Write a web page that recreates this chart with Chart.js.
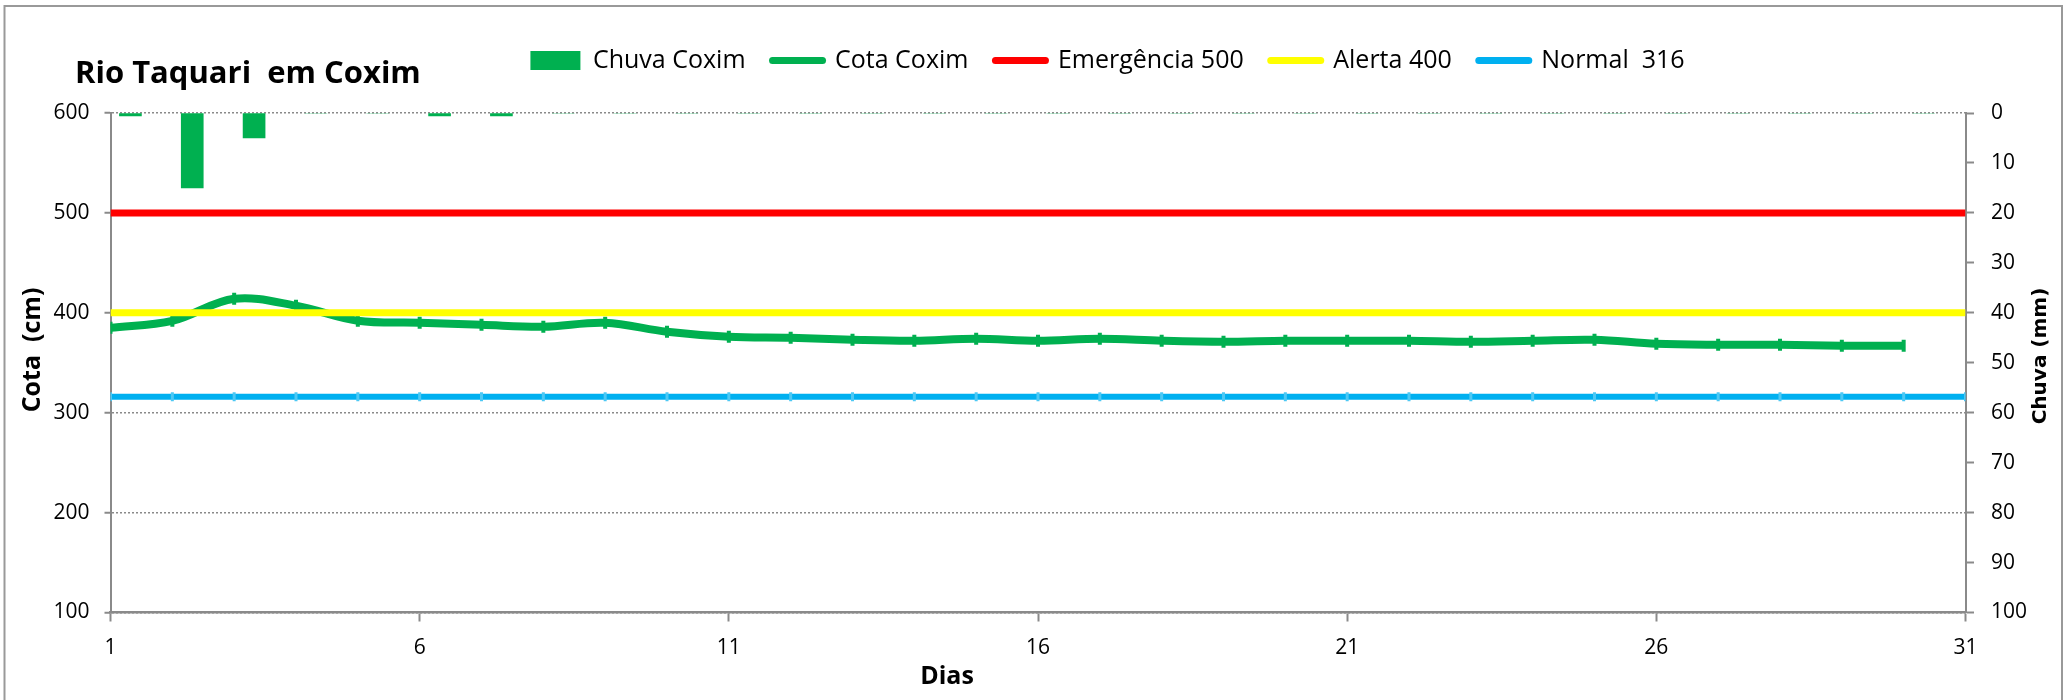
<!DOCTYPE html>
<html lang="pt">
<head>
<meta charset="utf-8">
<title>Rio Taquari em Coxim</title>
<script src="https://cdn.jsdelivr.net/npm/chart.js"></script>
<style>
  html, body { margin: 0; padding: 0; background: #fff; }
  #wrap { position: relative; width: 2067px; height: 700px; }
</style>
</head>
<body>
<div id="wrap"><canvas id="grafico"></canvas></div>
<script>
// Dados (cm e mm)
const dias = [1,2,3,4,5,6,7,8,9,10,11,12,13,14,15,16,17,18,19,20,21,22,23,24,25,26,27,28,29,30];
const diasLimite = [1,2,3,4,5,6,7,8,9,10,11,12,13,14,15,16,17,18,19,20,21,22,23,24,25,26,27,28,29,30,31];
const cotaCoxim = [385,392,414,407,392,390,388,386,390,381,376,375,373,372,374,372,374,372,371,372,372,372,371,372,373,369,368,368,367,367];
const chuvaCoxim = [0.6,15,5,0,0,0.6,0.6,0,0,0,0,0,0,0,0,0,0,0,0,0,0,0,0,0,0,0,0,0,0,0];
const EMERGENCIA = 500, ALERTA = 400, NORMAL = 316;
const ticksDias = [1,6,11,16,21,26,31];
const ticksCota = [100,200,300,400,500,600];
const ticksChuva = [0,10,20,30,40,50,60,70,80,90,100];

const VERDE = "#00B050", CINZA = "#8a8a8a";
const FONTE = "'Open Sans', sans-serif";
const LEGEND_DX = 74;
const LEGEND_H = 92;

const fixTicks = arr => s => { s.ticks = arr.map(v => ({ value: v })); };

// moldura, altura da legenda e textos posicionados como no original
const extras = {
  id: "extras",
  afterInit(chart) {
    const lg = chart.legend;
    const fit = lg.fit;
    lg.fit = function () { fit.call(this); this.height = LEGEND_H; };
  },
  afterLayout(chart) {
    chart.legend.left += LEGEND_DX;
    chart.legend.right += LEGEND_DX;
  },
  beforeDraw(chart) {
    const c = chart.ctx;
    c.save();
    c.strokeStyle = "#999";
    c.lineWidth = 2;
    c.strokeRect(4.5, 6, 2057.5, 720);
    c.restore();
  },
  afterDraw(chart) {
    const c = chart.ctx;
    c.save();
    c.fillStyle = "#000";
    c.textBaseline = "alphabetic";

    c.font = "bold 31px " + FONTE;
    c.textAlign = "left";
    c.fillText("Rio Taquari  em Coxim", 75, 83);

    c.font = "bold 25px " + FONTE;
    c.textAlign = "center";
    c.fillText("Dias", 947, 684);

    c.save();
    c.translate(40, 350);
    c.rotate(-Math.PI / 2);
    c.fillText("Cota  (cm)", 0, 0);
    c.restore();

    c.save();
    c.font = "bold 20px 'DejaVu Sans'";
    c.translate(2046, 356);
    c.rotate(-Math.PI / 2);
    c.fillText("Chuva (mm)", 0, 0);
    c.restore();

    c.restore();
  }
};

const linha = (label, valor, cor, larg, ordem) => ({
  type: "line",
  label,
  data: diasLimite.map(d => ({ x: d, y: valor })),
  xAxisID: "x", yAxisID: "y",
  borderColor: cor, backgroundColor: cor,
  borderWidth: larg, pointRadius: 0, order: ordem
});

const normal = linha("Normal  316", NORMAL, "#00B0F0", 6, 0);
normal.pointStyle = "line";
normal.pointRotation = 90;
normal.pointRadius = 4.5;
normal.pointBorderWidth = 3;
normal.pointBorderColor = "#4cc8f4";

new Chart(document.getElementById("grafico"), {
  type: "line",
  data: {
    labels: dias,
    datasets: [
      {
        type: "bar",
        label: "Chuva Coxim",
        data: chuvaCoxim,
        xAxisID: "xChuva", yAxisID: "yChuva",
        backgroundColor: VERDE,
        barThickness: 22,
        order: 4
      },
      {
        type: "line",
        label: "Cota Coxim",
        data: dias.map((d, i) => ({ x: d, y: cotaCoxim[i] })),
        xAxisID: "x", yAxisID: "y",
        borderColor: VERDE, backgroundColor: VERDE,
        borderWidth: 8, tension: 0.35,
        pointStyle: "line", pointRotation: 90,
        pointRadius: 6, pointBorderWidth: 4, pointBorderColor: VERDE,
        order: 3
      },
      linha("Emergência 500", EMERGENCIA, "#FF0000", 7, 2),
      linha("Alerta 400", ALERTA, "#FFFF00", 7, 1),
      normal
    ]
  },
  options: {
    responsive: true,
    maintainAspectRatio: false,
    animation: false,
    layout: { padding: { top: 21, left: 0, right: 0, bottom: 0 } },
    plugins: {
      tooltip: { enabled: false },
      title: { display: false },
      legend: {
        position: "top",
        labels: {
          color: "#000",
          font: { family: FONTE, size: 25 },
          usePointStyle: true,
          pointStyleWidth: 50,
          boxHeight: 19,
          padding: 27,
          generateLabels: chart => chart.data.datasets.map((ds, i) => ({
            text: ds.label,
            fontColor: "#000",
            fillStyle: ds.backgroundColor,
            strokeStyle: ds.type === "bar" ? ds.backgroundColor : ds.borderColor,
            lineWidth: ds.type === "bar" ? 0 : 7,
            lineCap: "round",
            pointStyle: ds.type === "bar" ? "rect" : "line",
            hidden: false,
            datasetIndex: i
          }))
        }
      }
    },
    scales: {
      x: {
        type: "linear", position: "bottom",
        min: 1, max: 31,
        afterBuildTicks: fixTicks(ticksDias),
        afterFit: s => { s.height = 87.5; },
        ticks: { color: "#000", font: { family: FONTE, size: 21 }, padding: 14 },
        grid: { drawOnChartArea: false, tickLength: 9, tickColor: CINZA, tickWidth: 2 },
        border: { color: CINZA, width: 2.5 }
      },
      xChuva: {
        type: "category", display: false, offset: true,
        grid: { display: false }
      },
      y: {
        type: "linear", position: "left",
        min: 100, max: 600,
        afterBuildTicks: fixTicks(ticksCota),
        afterFit: s => { s.width = 110.5; },
        ticks: { color: "#000", font: { family: FONTE, size: 21 }, padding: 15 },
        grid: { color: CINZA, lineWidth: 1.5, tickLength: 6, tickColor: CINZA, tickWidth: 2 },
        border: { color: CINZA, width: 2, dash: [2, 2] }
      },
      yChuva: {
        type: "linear", position: "right",
        min: 0, max: 100, reverse: true,
        afterBuildTicks: fixTicks(ticksChuva),
        afterFit: s => { s.width = 101.5; },
        ticks: { color: "#000", font: { family: FONTE, size: 21 }, padding: 17 },
        grid: { drawOnChartArea: false, tickLength: 8.5, tickColor: CINZA, tickWidth: 2 },
        border: { color: CINZA, width: 2 }
      }
    }
  },
  plugins: [extras]
});
</script>
</body>
</html>
